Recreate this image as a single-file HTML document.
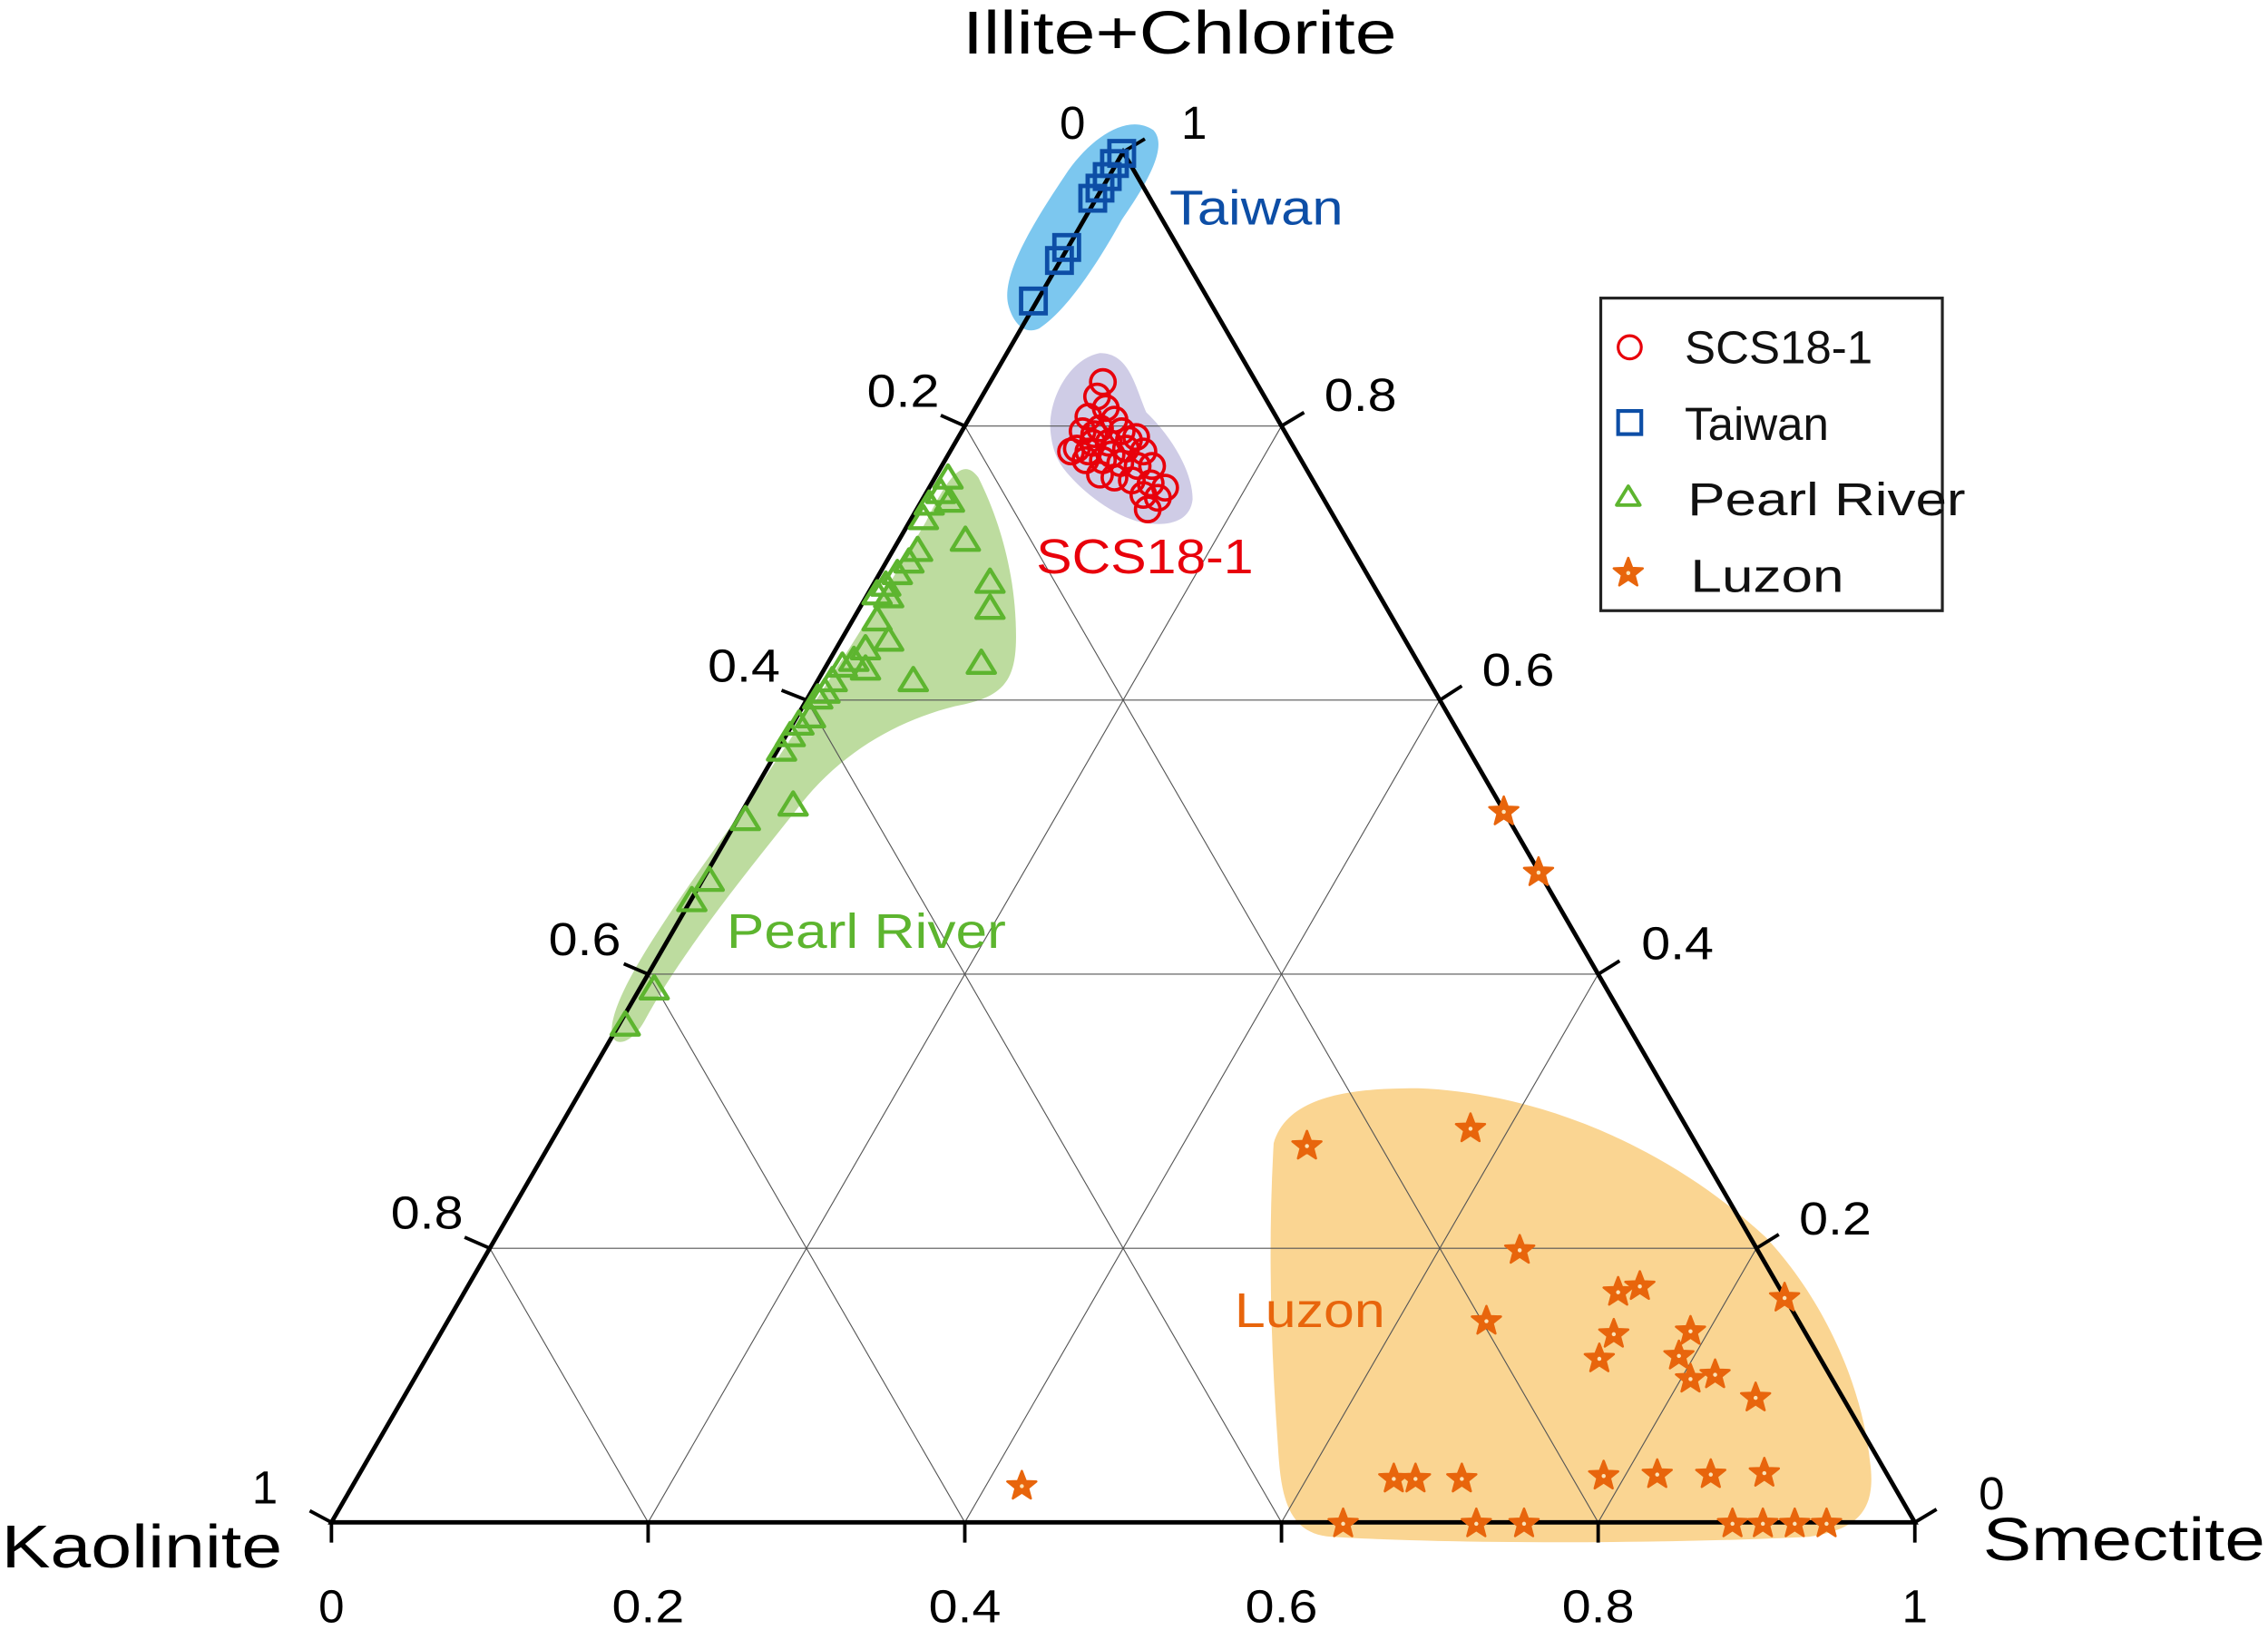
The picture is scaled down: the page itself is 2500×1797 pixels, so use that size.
<!DOCTYPE html>
<html><head><meta charset="utf-8"><style>
html,body{margin:0;padding:0;background:#fff;}
svg{display:block;}
text{font-family:"Liberation Sans",Arial,sans-serif;}
</style></head><body>
<svg width="2500" height="1797" viewBox="0 0 1567 1126.4" preserveAspectRatio="none" xmlns="http://www.w3.org/2000/svg">
<defs>
<rect id="sq" x="-8.5" y="-8.5" width="17" height="17" fill="none" stroke="#0d4ea6" stroke-width="3"/>
<circle id="ci" r="8.5" fill="none" stroke="#e8000b" stroke-width="2.3"/>
<polygon id="tr" points="0,-8.5 9.5,7 -9.5,7" fill="none" stroke="#5db52f" stroke-width="2.7" stroke-linejoin="round"/>
<g id="st"><polygon points="0,-10.5 2.7,-3.5 10,-3.2 4.3,1.4 6.2,8.5 0,4.4 -6.2,8.5 -4.3,1.4 -10,-3.2 -2.7,-3.5" fill="#e8650c" stroke="#e8650c" stroke-width="1.6" stroke-linejoin="round"/><circle r="1.4" fill="#fbe3b8"/></g>
</defs>
<!-- regions -->
<path d="M697,212 C690,190 718,148 738,118 C755,94 780,78 797,90 C808,102 790,130 775,152 C755,188 735,216 718,227 C707,232 700,222 697,212Z" fill="#7cc7ef"/>
<path d="M726,300 C723,278 738,248 760,244 C780,244 784,266 792,285 C808,300 824,325 824,345 C822,364 800,364 785,360 C765,354 745,337 735,324 C729,316 727,308 726,300Z" fill="#cfcce6"/>
<path d="M423,716 C418,690 470,620 520,550 C560,490 600,430 640,360 C655,330 665,315 676,330 C692,362 702,400 702,440 C702,472 692,482 660,488 C620,498 580,520 550,560 C510,610 470,660 445,706 C437,720 426,724 423,716Z" fill="#bddc9f"/>
<path d="M880,790 C890,755 940,752 980,752 C1060,755 1150,790 1220,855 C1262,900 1287,960 1292,1010 C1297,1045 1282,1057 1250,1062 C1150,1067 1000,1067 920,1062 C890,1060 885,1035 883,1000 C878,930 876,860 880,790Z" fill="#fad592"/>
<!-- grid -->
<g stroke="#555" stroke-width="0.7" fill="none">
<line x1="338.4" y1="862.6" x2="1213.6" y2="862.6"/>
<line x1="447.8" y1="673.2" x2="1104.2" y2="673.2"/>
<line x1="557.2" y1="483.8" x2="994.8" y2="483.8"/>
<line x1="666.6" y1="294.4" x2="885.4" y2="294.4"/>
<line x1="447.8" y1="1052" x2="338.4" y2="862.6"/>
<line x1="666.6" y1="1052" x2="447.8" y2="673.2"/>
<line x1="885.4" y1="1052" x2="557.2" y2="483.8"/>
<line x1="1104.2" y1="1052" x2="666.6" y2="294.4"/>
<line x1="447.8" y1="1052" x2="885.4" y2="294.4"/>
<line x1="666.6" y1="1052" x2="994.8" y2="483.8"/>
<line x1="885.4" y1="1052" x2="1104.2" y2="673.2"/>
<line x1="1104.2" y1="1052" x2="1213.6" y2="862.6"/>
</g>
<!-- axes -->
<polygon points="229,1052 1323,1052 776,105" fill="none" stroke="#000" stroke-width="3" stroke-linejoin="miter"/>
<g stroke="#000" stroke-width="2.4">
<line x1="229" y1="1052" x2="229" y2="1066"/><line x1="447.8" y1="1052" x2="447.8" y2="1066"/><line x1="666.6" y1="1052" x2="666.6" y2="1066"/><line x1="885.4" y1="1052" x2="885.4" y2="1066"/><line x1="1104.2" y1="1052" x2="1104.2" y2="1066"/><line x1="1323" y1="1052" x2="1323" y2="1066"/>
<line x1="229" y1="1052" x2="214" y2="1044"/><line x1="338.4" y1="862.6" x2="321" y2="855"/><line x1="447.8" y1="673.2" x2="431" y2="666"/><line x1="557.2" y1="483.8" x2="540" y2="477"/><line x1="666.6" y1="294.4" x2="650" y2="287"/>
<line x1="1323" y1="1052" x2="1338" y2="1043"/><line x1="1213.6" y1="862.6" x2="1229" y2="853"/><line x1="1104.2" y1="673.2" x2="1119" y2="664"/><line x1="994.8" y1="483.8" x2="1010" y2="474"/><line x1="885.4" y1="294.4" x2="901" y2="285"/><line x1="776" y1="105" x2="791" y2="96"/>
</g>
<!-- tick labels -->
<g font-size="32" fill="#000" text-anchor="middle">
<text x="229" y="1121">0</text><text x="447.8" y="1121" textLength="50" lengthAdjust="spacingAndGlyphs">0.2</text><text x="666.6" y="1121" textLength="50" lengthAdjust="spacingAndGlyphs">0.4</text><text x="885.4" y="1121" textLength="50" lengthAdjust="spacingAndGlyphs">0.6</text><text x="1104.2" y="1121" textLength="50" lengthAdjust="spacingAndGlyphs">0.8</text><text x="1323" y="1121">1</text>
<text x="183" y="1039">1</text><text x="295" y="849" textLength="50" lengthAdjust="spacingAndGlyphs">0.8</text><text x="404" y="660" textLength="50" lengthAdjust="spacingAndGlyphs">0.6</text><text x="514" y="471" textLength="50" lengthAdjust="spacingAndGlyphs">0.4</text><text x="624" y="281" textLength="50" lengthAdjust="spacingAndGlyphs">0.2</text><text x="741" y="96">0</text>
<text x="1376" y="1043">0</text><text x="1268" y="853" textLength="50" lengthAdjust="spacingAndGlyphs">0.2</text><text x="1159" y="663" textLength="50" lengthAdjust="spacingAndGlyphs">0.4</text><text x="1049" y="474" textLength="50" lengthAdjust="spacingAndGlyphs">0.6</text><text x="940" y="284" textLength="50" lengthAdjust="spacingAndGlyphs">0.8</text><text x="825" y="96">1</text>
</g>
<g font-size="42" fill="#000">
<text x="665" y="37" textLength="300" lengthAdjust="spacingAndGlyphs">Illite+Chlorite</text>
<text x="1" y="1083" textLength="194" lengthAdjust="spacingAndGlyphs">Kaolinite</text>
<text x="1370" y="1078" textLength="195" lengthAdjust="spacingAndGlyphs">Smectite</text>
</g>
<!-- region labels -->
<text x="808" y="155" font-size="34" fill="#0d4ea6" textLength="120" lengthAdjust="spacingAndGlyphs">Taiwan</text>
<text x="716" y="396" font-size="34" fill="#e8000b" textLength="150" lengthAdjust="spacingAndGlyphs">SCS18-1</text>
<text x="502" y="655" font-size="34" fill="#5db52f" textLength="193" lengthAdjust="spacingAndGlyphs">Pearl River</text>
<text x="853" y="917" font-size="34" fill="#e8650c" textLength="104" lengthAdjust="spacingAndGlyphs">Luzon</text>
<!-- Taiwan -->
<g>
<use href="#sq" x="775" y="106"/><use href="#sq" x="770" y="113"/><use href="#sq" x="765" y="122"/><use href="#sq" x="760" y="130"/><use href="#sq" x="755" y="137"/><use href="#sq" x="737" y="171"/><use href="#sq" x="732" y="180"/><use href="#sq" x="714" y="208"/>
</g>
<!-- SCS18-1 -->
<g>
<use href="#ci" x="762" y="264"/><use href="#ci" x="758" y="274"/><use href="#ci" x="764" y="282"/><use href="#ci" x="752" y="288"/><use href="#ci" x="770" y="290"/><use href="#ci" x="748" y="298"/><use href="#ci" x="760" y="296"/><use href="#ci" x="775" y="298"/><use href="#ci" x="785" y="302"/><use href="#ci" x="744" y="310"/><use href="#ci" x="755" y="306"/><use href="#ci" x="766" y="306"/><use href="#ci" x="778" y="310"/><use href="#ci" x="790" y="312"/><use href="#ci" x="750" y="318"/><use href="#ci" x="762" y="318"/><use href="#ci" x="774" y="320"/><use href="#ci" x="786" y="322"/><use href="#ci" x="796" y="322"/><use href="#ci" x="770" y="330"/><use href="#ci" x="782" y="332"/><use href="#ci" x="795" y="334"/><use href="#ci" x="805" y="337"/><use href="#ci" x="790" y="342"/><use href="#ci" x="800" y="344"/><use href="#ci" x="793" y="352"/><use href="#ci" x="760" y="328"/><use href="#ci" x="740" y="312"/><use href="#ci" x="756" y="300"/><use href="#ci" x="768" y="314"/><use href="#ci" x="780" y="304"/><use href="#ci" x="752" y="312"/>
</g>
<!-- Pearl River -->
<g>
<use href="#tr" x="655" y="330"/><use href="#tr" x="650" y="340"/><use href="#tr" x="656" y="346"/><use href="#tr" x="642" y="348"/><use href="#tr" x="638" y="358"/><use href="#tr" x="667" y="373"/><use href="#tr" x="634" y="380"/><use href="#tr" x="628" y="388"/><use href="#tr" x="620" y="396"/><use href="#tr" x="612" y="404"/><use href="#tr" x="606" y="410"/><use href="#tr" x="614" y="412"/><use href="#tr" x="684" y="402"/><use href="#tr" x="684" y="420"/><use href="#tr" x="606" y="428"/><use href="#tr" x="614" y="442"/><use href="#tr" x="598" y="448"/><use href="#tr" x="590" y="456"/><use href="#tr" x="582" y="460"/><use href="#tr" x="598" y="462"/><use href="#tr" x="678" y="458"/><use href="#tr" x="631" y="470"/><use href="#tr" x="575" y="470"/><use href="#tr" x="570" y="478"/><use href="#tr" x="565" y="482"/><use href="#tr" x="560" y="495"/><use href="#tr" x="552" y="500"/><use href="#tr" x="546" y="508"/><use href="#tr" x="540" y="518"/><use href="#tr" x="548" y="556"/><use href="#tr" x="515" y="566"/><use href="#tr" x="490" y="608"/><use href="#tr" x="478" y="622"/><use href="#tr" x="452" y="683"/><use href="#tr" x="432" y="708"/>
</g>
<!-- Luzon -->
<g>
<use href="#st" x="1039" y="561"/><use href="#st" x="1063" y="603"/><use href="#st" x="903" y="792"/><use href="#st" x="1016" y="780"/><use href="#st" x="1050" y="864"/><use href="#st" x="1027" y="913"/><use href="#st" x="1118" y="893"/><use href="#st" x="1133" y="889"/><use href="#st" x="1115" y="922"/><use href="#st" x="1105" y="939"/><use href="#st" x="1168" y="920"/><use href="#st" x="1160" y="937"/><use href="#st" x="1168" y="953"/><use href="#st" x="1185" y="950"/><use href="#st" x="1213" y="966"/><use href="#st" x="1233" y="897"/><use href="#st" x="706" y="1027"/><use href="#st" x="963" y="1022"/><use href="#st" x="978" y="1022"/><use href="#st" x="1010" y="1022"/><use href="#st" x="1108" y="1020"/><use href="#st" x="1145" y="1019"/><use href="#st" x="1182" y="1019"/><use href="#st" x="1219" y="1018"/><use href="#st" x="928" y="1053"/><use href="#st" x="1020" y="1053"/><use href="#st" x="1053" y="1053"/><use href="#st" x="1197" y="1053"/><use href="#st" x="1218" y="1053"/><use href="#st" x="1240" y="1053"/><use href="#st" x="1262" y="1053"/>
</g>
<!-- legend -->
<rect x="1106" y="206" width="236" height="216" fill="#fff" stroke="#222" stroke-width="2"/>
<circle cx="1126" cy="240" r="8" fill="none" stroke="#e8000b" stroke-width="2"/>
<rect x="1118" y="284" width="16" height="16" fill="none" stroke="#0d4ea6" stroke-width="2.6"/>
<polygon points="1125,336 1133,349 1117,349" fill="none" stroke="#5db52f" stroke-width="2.4" stroke-linejoin="round"/>
<use href="#st" x="1125" y="396"/>
<g font-size="32" fill="#111">
<text x="1164" y="251">SCS18-1</text>
<text x="1164" y="304">Taiwan</text>
<text x="1166" y="356" textLength="192" lengthAdjust="spacingAndGlyphs">Pearl River</text>
<text x="1168" y="409" textLength="106" lengthAdjust="spacingAndGlyphs">Luzon</text>
</g>
</svg>
</body></html>
